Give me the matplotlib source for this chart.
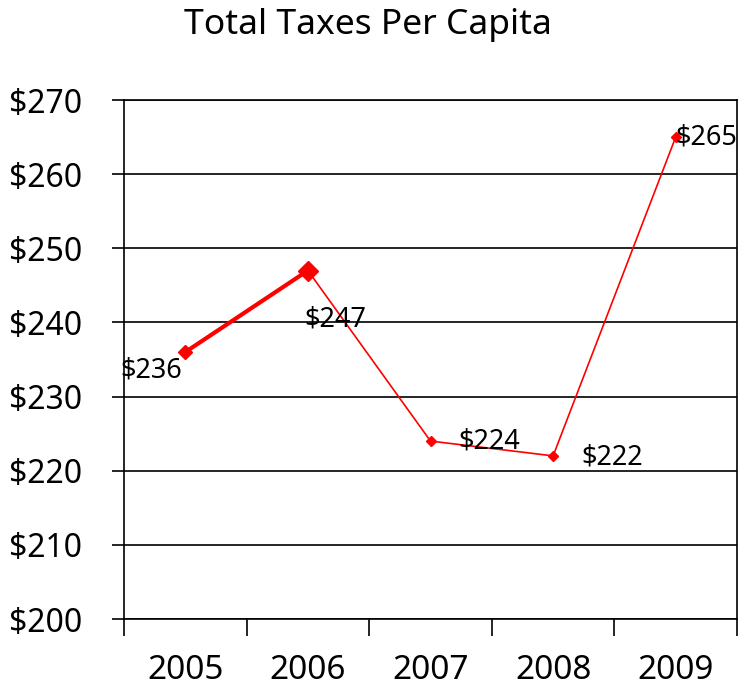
import matplotlib
matplotlib.use('Agg')
import matplotlib.pyplot as plt

years = ['2005', '2006', '2007', '2008', '2009']
taxes = [236, 247, 224, 222, 265]
# label offsets from each point, in pixels (as placed in the original)
label_dx = [-65, -4, 28, 28, 0]
label_dy = [-18, -49, 0, -2, 0]

plt.rcParams['font.family'] = ['Noto Sans', 'DejaVu Sans']

fig = plt.figure(figsize=(7.39, 6.89), dpi=100)
ax = fig.add_axes([124 / 739, 1 - 619 / 689, 613 / 739, 519 / 689])

x = list(range(len(years)))
ax.plot(x[:2], taxes[:2], color='#ff0000', lw=3, zorder=3)
ax.plot(x[1:], taxes[1:], color='#ff0000', lw=1.2, zorder=3)
ax.plot(x[0], taxes[0], marker='D', color='#ff0000', ms=7, zorder=4)
ax.plot(x[1], taxes[1], marker='D', color='#ff0000', ms=10, zorder=4)
ax.plot(x[2:], taxes[2:], 'D', color='#ff0000', ms=5.5, zorder=4)

for i, v in enumerate(taxes):
    ax.annotate('${}'.format(v), (x[i], v), xytext=(label_dx[i], label_dy[i]),
                textcoords='offset pixels', ha='left', va='center', fontsize=19.5, zorder=5)

ax.set_xlim(-0.5, 4.5)
ax.set_ylim(200, 270)
ax.set_yticks(range(200, 271, 10))
ax.set_yticklabels(['${}'.format(t) for t in range(200, 271, 10)], fontsize=23)
ax.yaxis.grid(True, color='black', lw=1.2)
ax.set_axisbelow(True)
ax.tick_params(axis='y', length=9, width=1.2, pad=21)

ax.set_xticks([i + 0.5 for i in range(-1, 5)], minor=False)
ax.set_xticklabels([])
ax.set_xticks(x, minor=True)
ax.set_xticklabels(years, minor=True, fontsize=24)
ax.tick_params(axis='x', which='major', length=12, width=1.2, direction='out')
ax.tick_params(axis='x', which='minor', length=0, pad=25)

for s in ax.spines.values():
    s.set_linewidth(1.2)

fig.text(368 / 739, 1 - 25 / 689, 'Total Taxes Per Capita', ha='center', va='center', fontsize=25.5)

fig.savefig('out.png', dpi=100)
